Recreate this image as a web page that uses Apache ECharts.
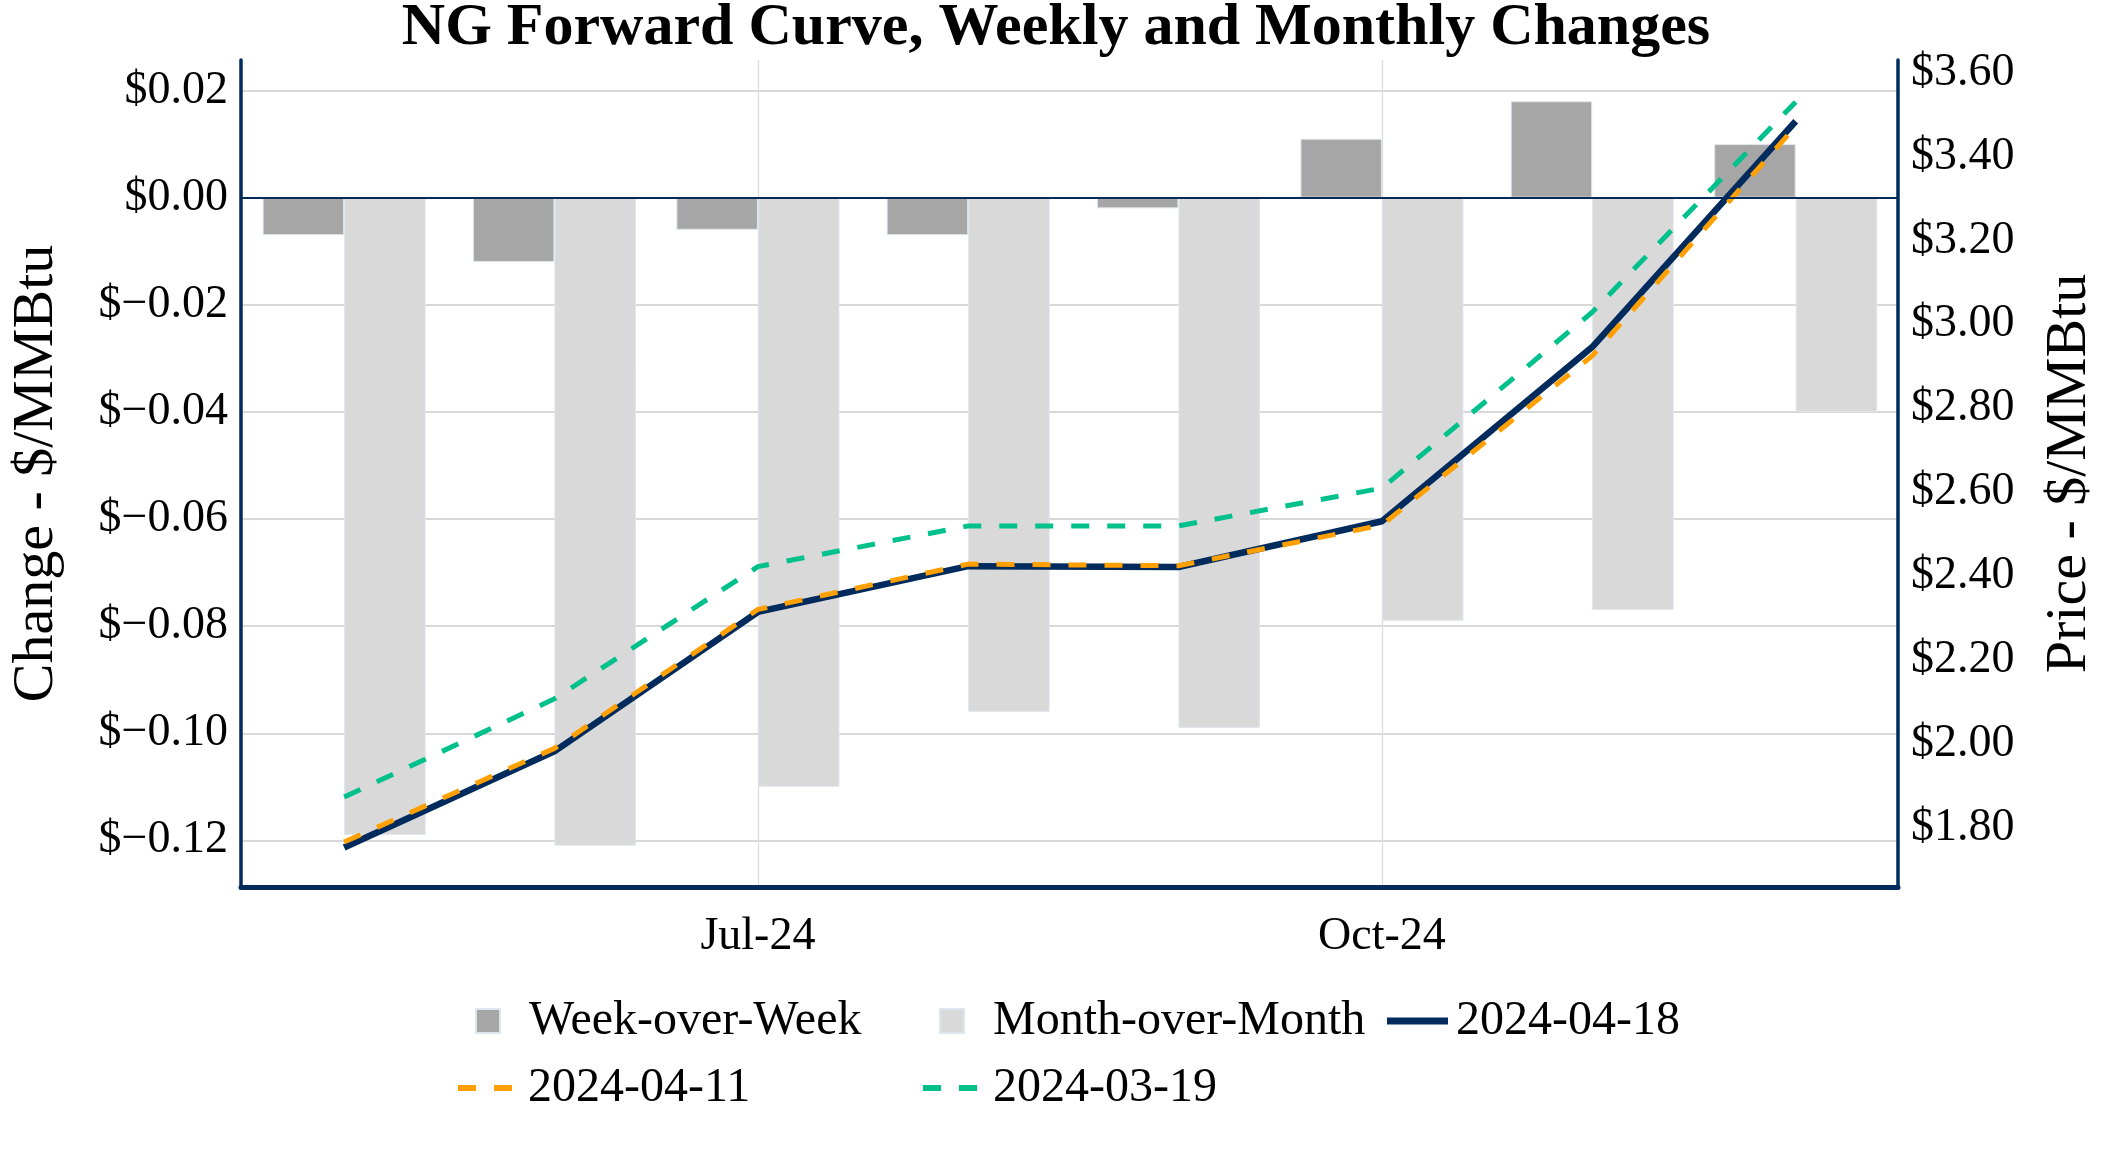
<!DOCTYPE html>
<html>
<head>
<meta charset="utf-8">
<script src="https://cdn.jsdelivr.net/npm/echarts@6/dist/echarts.min.js"></script>
<style>html,body{margin:0;padding:0;background:#fff;}#c{width:2112px;height:1152px;}</style>
</head>
<body>
<div id="c"></div>
<script>
const months = ['2024-05-01','2024-06-01','2024-07-01','2024-08-01','2024-09-01','2024-10-01','2024-11-01','2024-12-01'];
const weekOverWeek = [-0.007, -0.012, -0.006, -0.007, -0.002, 0.011, 0.018, 0.010];
const monthOverMonth = [-0.119, -0.121, -0.110, -0.096, -0.099, -0.079, -0.077, -0.040];
const curve0418 = [1.754, 1.983, 2.315, 2.424, 2.422, 2.531, 2.946, 3.484];
const curve0411 = [1.767, 1.990, 2.321, 2.429, 2.425, 2.522, 2.925, 3.472];
const curve0319 = [1.874, 2.108, 2.423, 2.520, 2.520, 2.610, 3.029, 3.530];
const xTickDates = ['2024-07-01','2024-10-01'];
const xTickLabels = ['Jul-24','Oct-24'];
const leftTicks = [-0.12,-0.10,-0.08,-0.06,-0.04,-0.02,0.00,0.02];
const rightTicks = [1.80,2.00,2.20,2.40,2.60,2.80,3.00,3.20,3.40,3.60];

function ts(s){const p=s.split(/[- :]/).map(Number);return Date.UTC(p[0],p[1]-1,p[2],p[3]||0,p[4]||0);}
const xs = months.map(ts);
const xTickTs = xTickDates.map(ts);
const pair = arr => arr.map((v,i)=>[xs[i],v]);

const NAVY='#002b5c', ORANGE='#ffa000', GREEN='#00c08b';
const FONT='Liberation Serif';
const SOLID_ICON='path://M0,0H61V7H0Z';
const DASH_ICON='path://M0,0H18V6H0Z M36,0H54V6H36Z';

const chart = echarts.init(document.getElementById('c'));
const legendBase = {orient:'horizontal', padding:0, textStyle:{fontFamily:FONT,fontSize:48,color:'#000'}};
function leg(name, icon, left, top, w, h, pad){
  return Object.assign({}, legendBase, {data:[{name:name, icon:icon}], left:left, top:top, itemWidth:w, itemHeight:h,
    textStyle:Object.assign({}, legendBase.textStyle, {padding:[0,0,0,pad]})});
}
chart.setOption({
  animation:false,
  backgroundColor:'#fff',
  title:{text:'NG Forward Curve, Weekly and Monthly Changes', left:'center', top:-7,
    textStyle:{fontFamily:FONT,fontSize:60,fontWeight:'bold',color:'#000'}},
  grid:{left:241,right:214,top:60,bottom:265,containLabel:false},
  legend:[
    leg('Week-over-Week','rect',475,997,24,24,24),
    leg('Month-over-Month','rect',939,997,24,24,24),
    leg('2024-04-18',SOLID_ICON,1387,997,61,7,3),
    leg('2024-04-11',DASH_ICON,458,1064,54,6,11),
    leg('2024-03-19',DASH_ICON,923,1064,54,6,11)
  ],
  xAxis:{type:'value', min:ts('2024-04-15 19:00'), max:ts('2024-12-16 02:00'),
    axisLine:{show:true,onZero:false,lineStyle:{color:NAVY,width:5}},
    axisTick:{show:false,customValues:xTickTs},
    axisLabel:{customValues:xTickTs, margin:27, fontFamily:FONT,fontSize:46,color:'#000',
      formatter:function(v){const i=xTickTs.indexOf(v);return i>=0?xTickLabels[i]:'';}},
    splitLine:{show:true,lineStyle:{color:'#dedede',width:1.3}}
  },
  yAxis:[
    {type:'value', position:'left', min:-0.1287, max:0.0257,
      name:'Change - $/MMBtu', nameLocation:'middle', nameRotate:90, nameGap:175,
      nameTextStyle:{fontFamily:FONT,fontSize:58,color:'#000'},
      axisLine:{show:true,lineStyle:{color:NAVY,width:3.5}},
      axisTick:{show:false,customValues:leftTicks},
      axisLabel:{customValues:leftTicks, margin:13, fontFamily:FONT,fontSize:46,color:'#000',
        formatter:function(v){const a=Math.abs(v);return (v<-1e-9?'$\u2212':'$')+a.toFixed(2);}},
      splitLine:{show:true,lineStyle:{color:'#d9d9d9',width:2}}
    },
    {type:'value', position:'right', min:1.6598, max:3.6298,
      name:'Price - $/MMBtu', nameLocation:'middle', nameRotate:90, nameGap:143,
      nameTextStyle:{fontFamily:FONT,fontSize:58,color:'#000'},
      axisLine:{show:true,lineStyle:{color:NAVY,width:3.5}},
      axisTick:{show:false,customValues:rightTicks},
      axisLabel:{customValues:rightTicks, margin:13, fontFamily:FONT,fontSize:46,color:'#000',
        formatter:function(v){return '$'+v.toFixed(2);}},
      splitLine:{show:false}
    }
  ],
  series:[
    {name:'Week-over-Week', type:'bar', yAxisIndex:0, data:pair(weekOverWeek), barWidth:81.5, barGap:'0%',
      itemStyle:{color:'#a6a6a6',borderColor:'#dfe5ee',borderWidth:1},
      markLine:{silent:true,symbol:'none',label:{show:false},lineStyle:{color:NAVY,width:2,type:'solid'},data:[{yAxis:0}]}},
    {name:'Month-over-Month', type:'bar', yAxisIndex:0, data:pair(monthOverMonth), barWidth:81.5, barGap:'0%',
      itemStyle:{color:'#d9d9d9',borderColor:'#dfe5ee',borderWidth:1}},
    {name:'2024-04-18', type:'line', yAxisIndex:1, data:pair(curve0418), symbol:'none',
      lineStyle:{color:NAVY,width:6.5}, itemStyle:{color:NAVY}},
    {name:'2024-04-11', type:'line', yAxisIndex:1, data:pair(curve0411), symbol:'none',
      lineStyle:{color:ORANGE,width:5,type:[18,18]}, itemStyle:{color:ORANGE}},
    {name:'2024-03-19', type:'line', yAxisIndex:1, data:pair(curve0319), symbol:'none',
      lineStyle:{color:GREEN,width:5,type:[18,18]}, itemStyle:{color:GREEN}}
  ]
});
</script>
</body>
</html>
